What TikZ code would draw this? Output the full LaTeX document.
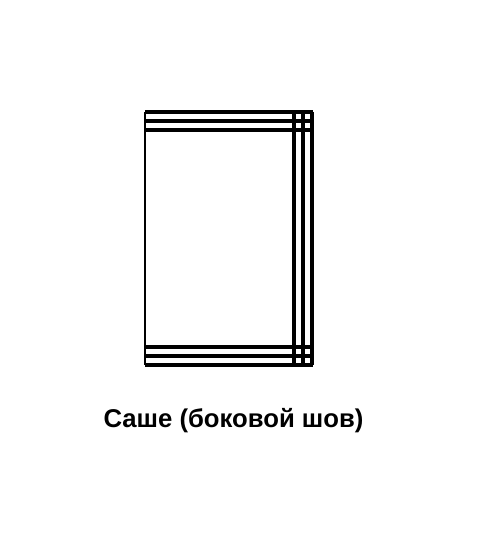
\documentclass[tikz,border=0pt]{standalone}
\usepackage{fontspec}
\setmainfont{Liberation Sans}
\tikzset{seam/.style={line width=3.2pt}, edge/.style={line width=1.8pt}}
\begin{document}
\begin{tikzpicture}[x=1pt,y=-1pt]
  \useasboundingbox (0,0) rectangle (479,540);
  % nodes
	\node (0) at (145, 112) {};
	\node (1) at (313, 112) {};
	\node (2) at (145, 121) {};
	\node (3) at (313, 121) {};
	\node (4) at (145, 130) {};
	\node (5) at (313, 130) {};
	\node (6) at (145, 347) {};
	\node (7) at (313, 347) {};
	\node (8) at (145, 356) {};
	\node (9) at (313, 356) {};
	\node (10) at (145, 365) {};
	\node (11) at (313, 365) {};
	\node (12) at (294, 112) {};
	\node (13) at (294, 365) {};
	\node (14) at (303, 112) {};
	\node (15) at (303, 365) {};
	\node (16) at (312, 112) {};
	\node (17) at (312, 365) {};
	\node [font=\bfseries\fontsize{25.7}{30}\selectfont] (20) at (233.5, 421) {Саше (боковой шов)};
	% edges
	\draw [edge] (0.center) to (10.center);
	%% top
	\draw [seam] (0.center) to (1.center);
	\draw [seam] (2.center) to (3.center);
	\draw [seam] (4.center) to (5.center);
	%% bottom
	\draw [seam] (6.center) to (7.center);
	\draw [seam] (8.center) to (9.center);
	\draw [seam] (10.center) to (11.center);
	%% side
	\draw [seam] (12.center) to (13.center);
	\draw [seam] (14.center) to (15.center);
	\draw [seam] (16.center) to (17.center);
\end{tikzpicture}
\end{document}
